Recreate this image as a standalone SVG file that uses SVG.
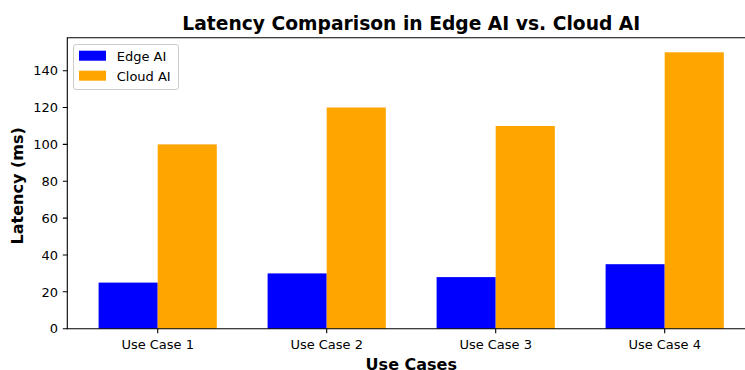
<svg xmlns="http://www.w3.org/2000/svg" width="745" height="370" viewBox="0 0 745 370">
<style>
text{font-family:"DejaVu Sans",sans-serif;fill:#000}
.tick{font-size:13px}
.lab{font-size:16px;font-weight:bold}
.title{font-size:18.7px;font-weight:bold}
.edge{fill:#0000ff}
.cloud{fill:#ffa500}
.spine{stroke:#000;stroke-width:1.1;fill:none}
.tk{stroke:#000;stroke-width:1.1}
</style>
<rect width="745" height="370" fill="#fff"/>
<g id="bars">
<rect class="edge" x="98.6" y="282.6" width="59.1" height="46.1"/>
<rect class="cloud" x="157.7" y="144.4" width="59.1" height="184.3"/>
<rect class="edge" x="267.6" y="273.4" width="59.1" height="55.3"/>
<rect class="cloud" x="326.7" y="107.5" width="59.1" height="221.2"/>
<rect class="edge" x="436.6" y="277.1" width="59.1" height="51.6"/>
<rect class="cloud" x="495.7" y="126.0" width="59.1" height="202.7"/>
<rect class="edge" x="605.6" y="264.2" width="59.1" height="64.5"/>
<rect class="cloud" x="664.7" y="52.3" width="59.1" height="276.4"/>
</g>
<g id="axes">
<path class="spine" d="M755,37.7 H67.3 V328.7 H755"/>
<g id="yticks">
<path class="tk" d="M62.8,328.7H67.3M62.8,291.8H67.3M62.8,255H67.3M62.8,218.1H67.3M62.8,181.2H67.3M62.8,144.4H67.3M62.8,107.5H67.3M62.8,70.7H67.3"/>
<text class="tick" text-anchor="end" x="58" y="333.4">0</text>
<text class="tick" text-anchor="end" x="58" y="296.5">20</text>
<text class="tick" text-anchor="end" x="58" y="259.7">40</text>
<text class="tick" text-anchor="end" x="58" y="222.8">60</text>
<text class="tick" text-anchor="end" x="58" y="185.9">80</text>
<text class="tick" text-anchor="end" x="58" y="149.1">100</text>
<text class="tick" text-anchor="end" x="58" y="112.2">120</text>
<text class="tick" text-anchor="end" x="58" y="75.4">140</text>
</g>
<g id="xticks">
<path class="tk" d="M157.7,328.7V333.2M326.7,328.7V333.2M495.7,328.7V333.2M664.7,328.7V333.2"/>
<text class="tick" text-anchor="middle" x="157.7" y="349">Use Case 1</text>
<text class="tick" text-anchor="middle" x="326.7" y="349">Use Case 2</text>
<text class="tick" text-anchor="middle" x="495.7" y="349">Use Case 3</text>
<text class="tick" text-anchor="middle" x="664.7" y="349">Use Case 4</text>
</g>
</g>
<text id="title" class="title" text-anchor="middle" x="411.3" y="30">Latency Comparison in Edge AI vs. Cloud AI</text>
<text id="xlabel" class="lab" text-anchor="middle" x="411.3" y="370">Use Cases</text>
<text id="ylabel" class="lab" text-anchor="middle" transform="translate(23,185.8) rotate(-90)">Latency (ms)</text>
<g id="legend">
<rect x="73.5" y="44.5" width="105" height="45" rx="2.5" fill="#fff" fill-opacity="0.8" stroke="#cccccc" stroke-width="1"/>
<rect class="edge" x="79" y="50.7" width="27" height="10"/>
<rect class="cloud" x="79" y="70.7" width="27" height="10"/>
<text class="tick" x="116.7" y="60.7">Edge AI</text>
<text class="tick" x="116.7" y="80.7">Cloud AI</text>
</g>
</svg>
